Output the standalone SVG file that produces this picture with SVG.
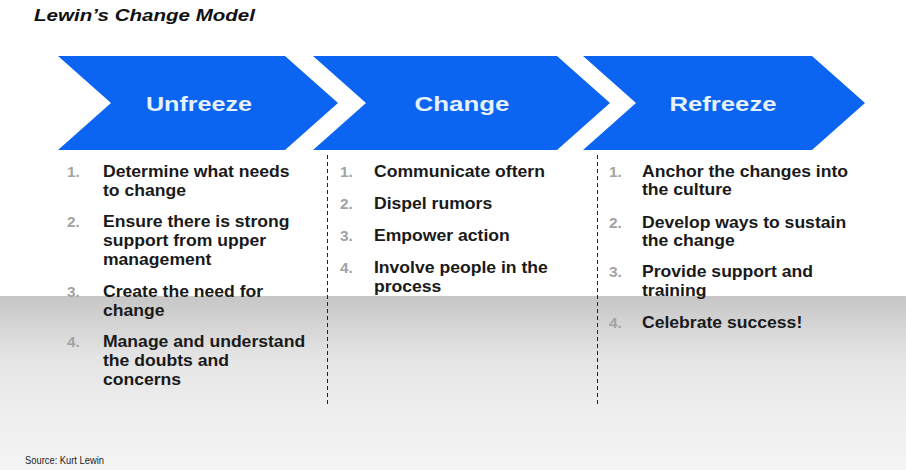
<svg xmlns="http://www.w3.org/2000/svg" width="906" height="470" viewBox="0 0 906 470">
  <defs>
    <linearGradient id="floor" x1="0" y1="0" x2="0" y2="1">
      <stop offset="0" stop-color="#c6c6c6"/>
      <stop offset="0.35" stop-color="#e4e4e4"/>
      <stop offset="0.7" stop-color="#efefef"/>
      <stop offset="1" stop-color="#f4f4f4"/>
    </linearGradient>
    <style>
      .title { font-family: "Liberation Sans", Arial, sans-serif; font-size: 16px; font-weight: bold; font-style: italic; fill: #111; }
      .chev { fill: #0b64f2; }
      .head { font-family: "Liberation Sans", Arial, sans-serif; font-size: 21px; font-weight: bold; fill: #e6f2ff; text-anchor: middle; }
      .num { font-family: "Liberation Sans", Arial, sans-serif; font-size: 14px; font-weight: bold; fill: #a3a3a3; }
      .item { font-family: "Liberation Sans", Arial, sans-serif; font-size: 16px; font-weight: bold; fill: #1a1a1a; }
      .divider { stroke: #222; stroke-width: 1; stroke-dasharray: 4 3; fill: none; }
      .src { font-family: "Liberation Sans", Arial, sans-serif; font-size: 11px; fill: #222; }
    </style>
  </defs>

  <!-- backdrop: white upper area, grey fading floor -->
  <rect x="0" y="0" width="906" height="470" fill="#ffffff"/>
  <rect x="0" y="296" width="906" height="174" fill="url(#floor)"/>

  <text class="title" x="34" y="21" textLength="221" lengthAdjust="spacingAndGlyphs">Lewin’s Change Model</text>

  <!-- dashed column dividers -->
  <g id="connectors">
    <line class="divider" x1="327.5" y1="155" x2="327.5" y2="406"/>
    <line class="divider" x1="597.5" y1="155" x2="597.5" y2="406"/>
  </g>

  <g id="unfreeze">
    <polygon class="chev" points="58,56 285,56 338,103 285,150 58,150 111,103"/>
    <text class="head" x="199" y="111" textLength="106" lengthAdjust="spacingAndGlyphs">Unfreeze</text>
    <g transform="translate(67 0) scale(1.1 1)">
      <text class="num" x="0" y="177">1.</text>
      <text class="item" x="32.7" y="177">Determine what needs</text>
      <text class="item" x="32.7" y="196">to change</text>
      <text class="num" x="0" y="227">2.</text>
      <text class="item" x="32.7" y="227">Ensure there is strong</text>
      <text class="item" x="32.7" y="246">support from upper</text>
      <text class="item" x="32.7" y="265">management</text>
      <text class="num" x="0" y="297">3.</text>
      <text class="item" x="32.7" y="297">Create the need for</text>
      <text class="item" x="32.7" y="316">change</text>
      <text class="num" x="0" y="347">4.</text>
      <text class="item" x="32.7" y="347">Manage and understand</text>
      <text class="item" x="32.7" y="366">the doubts and</text>
      <text class="item" x="32.7" y="385">concerns</text>
    </g>
  </g>

  <g id="change">
    <polygon class="chev" points="313,56 557,56 610,103 557,150 313,150 366,103"/>
    <text class="head" x="462" y="111" textLength="95" lengthAdjust="spacingAndGlyphs">Change</text>
    <g transform="translate(340 0) scale(1.1 1)">
      <text class="num" x="0" y="177">1.</text>
      <text class="item" x="30.9" y="177">Communicate oftern</text>
      <text class="num" x="0" y="209">2.</text>
      <text class="item" x="30.9" y="209">Dispel rumors</text>
      <text class="num" x="0" y="241">3.</text>
      <text class="item" x="30.9" y="241">Empower action</text>
      <text class="num" x="0" y="273">4.</text>
      <text class="item" x="30.9" y="273">Involve people in the</text>
      <text class="item" x="30.9" y="292">process</text>
    </g>
  </g>

  <g id="refreeze">
    <polygon class="chev" points="583,56 812,56 865,103 812,150 583,150 636,103"/>
    <text class="head" x="723" y="111" textLength="107" lengthAdjust="spacingAndGlyphs">Refreeze</text>
    <g transform="translate(609 0) scale(1.1 1)">
      <text class="num" x="0" y="177">1.</text>
      <text class="item" x="30" y="177">Anchor the changes into</text>
      <text class="item" x="30" y="195">the culture</text>
      <text class="num" x="0" y="228">2.</text>
      <text class="item" x="30" y="228">Develop ways to sustain</text>
      <text class="item" x="30" y="246">the change</text>
      <text class="num" x="0" y="277">3.</text>
      <text class="item" x="30" y="277">Provide support and</text>
      <text class="item" x="30" y="296">training</text>
      <text class="num" x="0" y="328">4.</text>
      <text class="item" x="30" y="328">Celebrate success!</text>
    </g>
  </g>

  <text class="src" x="25" y="464" textLength="79" lengthAdjust="spacingAndGlyphs">Source: Kurt Lewin</text>
</svg>
